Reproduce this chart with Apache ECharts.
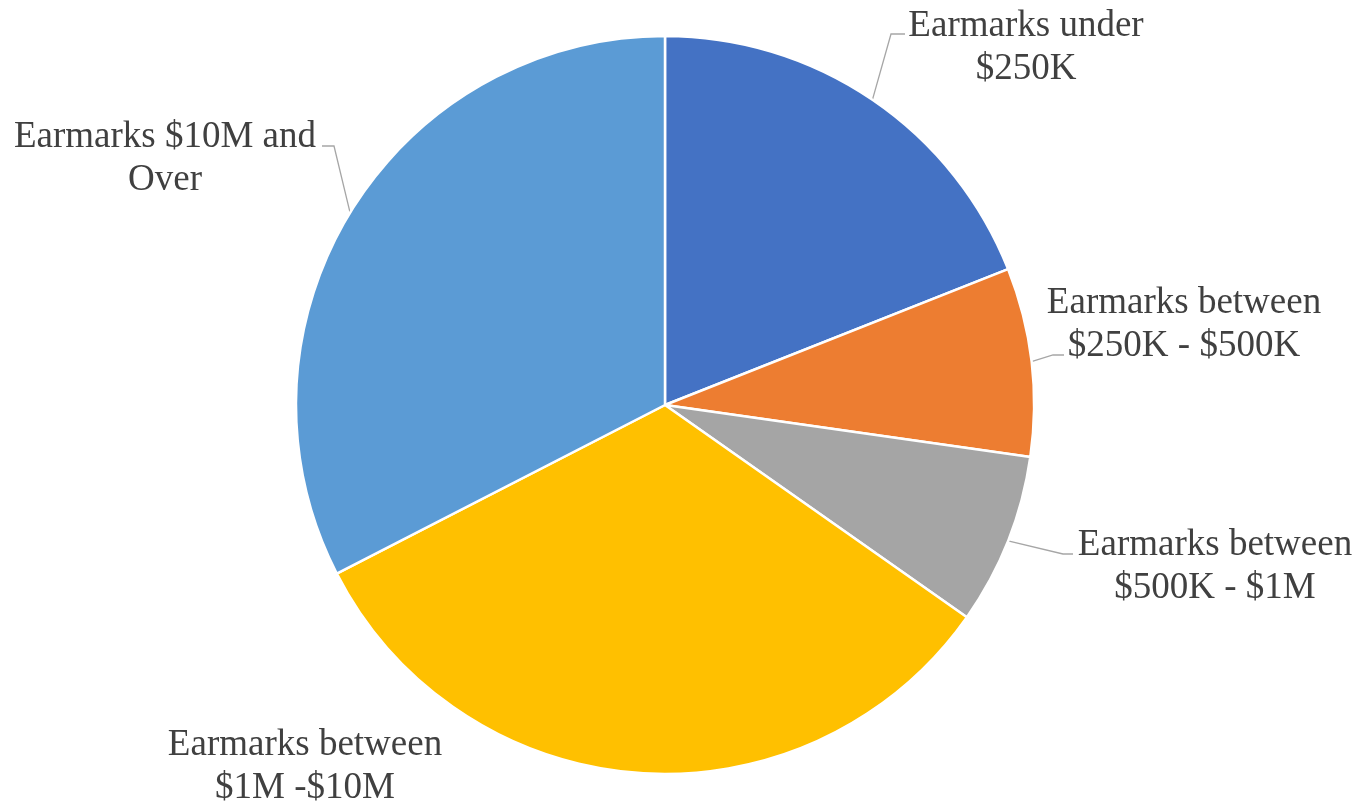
<!DOCTYPE html>
<html>
<head>
<meta charset="utf-8">
<script src="https://cdn.jsdelivr.net/npm/echarts@6/dist/echarts.min.js"></script>
<style>html,body{margin:0;padding:0;background:#fff;}#c{width:1362px;height:802px;}</style>
</head>
<body>
<div id="c"></div>
<script>
var categories = [
  "Earmarks under\n$250K",
  "Earmarks between\n$250K - $500K",
  "Earmarks between\n$500K - $1M",
  "Earmarks between\n$1M -$10M",
  "Earmarks $10M and\nOver"
];
var values = [19.0, 8.25, 7.5, 32.7, 32.55];
var colors = ["#4472C4", "#ED7D31", "#A5A5A5", "#FFC000", "#5B9BD5"];

// label anchor positions and leader-line bends (layout only)
var labelPos = [[1026, 48], [1184, 325], [1215, 567], [305, 767], [165, 159]];
var lineBend = [[[891, 34], [905, 34]], [[1053, 355], [1064, 355]], [[1063, 554], [1073, 554]], null, [[334, 146], [322, 146]]];

var chart = echarts.init(document.getElementById('c'));
chart.setOption({
  backgroundColor: '#ffffff',
  animation: false,
  series: [{
    type: 'pie',
    center: [665, 405],
    radius: 369,
    startAngle: 90,
    clockwise: true,
    data: categories.map(function (c, i) {
      return {
        name: c, value: values[i], itemStyle: { color: colors[i] },
        labelLine: { show: lineBend[i] !== null }
      };
    }),
    itemStyle: { borderColor: '#ffffff', borderWidth: 2.5 },
    label: {
      show: true,
      position: 'outside',
      formatter: '{b}',
      fontFamily: 'Liberation Serif',
      fontSize: 37,
      lineHeight: 43,
      color: '#404040',
      align: 'center'
    },
    labelLine: {
      show: true,
      length: 15,
      length2: 15,
      lineStyle: { color: '#A6A6A6', width: 1.3 }
    },
    labelLayout: function (p) {
      var i = p.dataIndex;
      var pos = labelPos[i];
      var res = { x: pos[0], y: pos[1], align: 'center', verticalAlign: 'middle' };
      if (lineBend[i] && p.labelLinePoints) {
        res.labelLinePoints = [p.labelLinePoints[0], lineBend[i][0], lineBend[i][1]];
      }
      return res;
    },
    emphasis: { disabled: true }
  }]
});
</script>
</body>
</html>
